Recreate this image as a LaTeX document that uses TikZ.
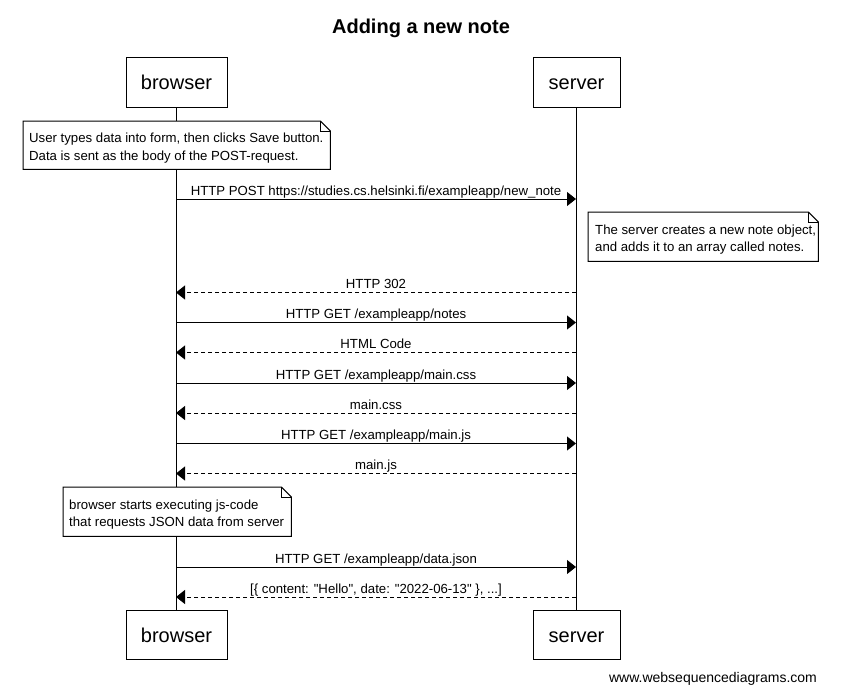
\documentclass[tikz,border=0pt]{standalone}
\usepackage{fontspec}
\setmainfont{Liberation Sans}[Ligatures=TeXOff]
\usetikzlibrary{arrows.meta}
\begin{document}
\begin{tikzpicture}[x=1pt,y=-1pt,
  actor/.style={draw=black, line width=1pt, fill=white, inner sep=0pt, text height=15pt, text depth=0pt, font=\fontsize{20}{24}\selectfont},
  notebox/.style={draw=none, fill=white, inner sep=0pt, anchor=north west},
  notetext/.style={anchor=west, align=left, inner sep=0pt, yshift=-3pt, font=\fontsize{13.2}{17.5}\selectfont},
  msg/.style={line width=1pt, -{Triangle[length=9pt,width=14pt]}},
  reply/.style={msg, dash pattern=on 4pt off 3pt},
  lbl/.style={pos=0.5, anchor=base, yshift=4pt, inner sep=0pt, font=\fontsize{13.2}{15}\selectfont},
  lifeline/.style={line width=1pt},
  noteline/.style={line width=1pt}
]
\useasboundingbox[fill=white] (0,0) rectangle (841,691);

% title
\node[font=\bfseries\fontsize{20}{24}\selectfont] (title) at (421,28) {Adding a new note};

% actors
\node[actor, minimum width=101pt, minimum height=50pt] (bt) at (176.5,82) {browser};
\node[actor, minimum width=87pt, minimum height=50pt] (st) at (576.5,82) {server};
\node[actor, minimum width=101pt, minimum height=49pt] (bb) at (176.5,635) {browser};
\node[actor, minimum width=87pt, minimum height=49pt] (sb) at (576.5,635) {server};

% lifelines
\draw[lifeline] (bt.south) -- (bb.north);
\draw[lifeline] (st.south) -- (sb.north);

% note 1
\node[notebox, minimum width=307pt, minimum height=48pt] (n1) at (23,121) {};
\draw[noteline] (n1.north west) -- ([xshift=-10pt]n1.north east) -- ([yshift=-10pt]n1.north east) -- (n1.south east) -- (n1.south west) -- cycle;
\draw[noteline] ([xshift=-10pt]n1.north east) |- ([yshift=-10pt]n1.north east);
\node[notetext] (n1t) at ([xshift=6pt]n1.west) {User types data into form, then clicks Save button.\\Data is sent as the body of the POST-request.};

% messages
\coordinate (b1) at (176,199); \coordinate (s1) at (576,199);
\draw[msg] (b1) -- node[lbl] (m1) {HTTP POST https://studies.cs.helsinki.fi/exampleapp/new\_note} (s1);

% note 2
\node[notebox, minimum width=230pt, minimum height=49pt] (n2) at (588,212) {};
\draw[noteline] (n2.north west) -- ([xshift=-10pt]n2.north east) -- ([yshift=-10pt]n2.north east) -- (n2.south east) -- (n2.south west) -- cycle;
\draw[noteline] ([xshift=-10pt]n2.north east) |- ([yshift=-10pt]n2.north east);
\node[notetext] (n2t) at ([xshift=7pt]n2.west) {The server creates a new note object,\\and adds it to an array called notes.};

\coordinate (s2) at (576,292.5); \coordinate (b2) at (176,292.5);
\draw[reply] (s2) -- node[lbl] (m2) {HTTP 302} (b2);
\coordinate (b3) at (176,322.5); \coordinate (s3) at (576,322.5);
\draw[msg] (b3) -- node[lbl] (m3) {HTTP GET /exampleapp/notes} (s3);
\coordinate (s4) at (576,352.5); \coordinate (b4) at (176,352.5);
\draw[reply] (s4) -- node[lbl] (m4) {HTML Code} (b4);
\coordinate (b5) at (176,383); \coordinate (s5) at (576,383);
\draw[msg] (b5) -- node[lbl] (m5) {HTTP GET /exampleapp/main.css} (s5);
\coordinate (s6) at (576,413); \coordinate (b6) at (176,413);
\draw[reply] (s6) -- node[lbl] (m6) {main.css} (b6);
\coordinate (b7) at (176,443.5); \coordinate (s7) at (576,443.5);
\draw[msg] (b7) -- node[lbl] (m7) {HTTP GET /exampleapp/main.js} (s7);
\coordinate (s8) at (576,473.5); \coordinate (b8) at (176,473.5);
\draw[reply] (s8) -- node[lbl] (m8) {main.js} (b8);

% note 3
\node[notebox, minimum width=228pt, minimum height=49pt] (n3) at (63,487) {};
\draw[noteline] (n3.north west) -- ([xshift=-10pt]n3.north east) -- ([yshift=-10pt]n3.north east) -- (n3.south east) -- (n3.south west) -- cycle;
\draw[noteline] ([xshift=-10pt]n3.north east) |- ([yshift=-10pt]n3.north east);
\node[notetext] (n3t) at ([xshift=6pt]n3.west) {browser starts executing js-code\\that requests JSON data from server};

\coordinate (b9) at (176,567); \coordinate (s9) at (576,567);
\draw[msg] (b9) -- node[lbl] (m9) {HTTP GET /exampleapp/data.json} (s9);
\coordinate (s10) at (576,597); \coordinate (b10) at (176,597);
\draw[reply] (s10) -- node[lbl] (m10) {[\{ content: "Hello", date: "2022-06-13" \}, ...]} (b10);

% watermark
\node[font=\fontsize{14}{16}\selectfont, inner sep=0pt] (wm) at (713,679) {www.websequencediagrams.com};
\end{tikzpicture}
\end{document}
